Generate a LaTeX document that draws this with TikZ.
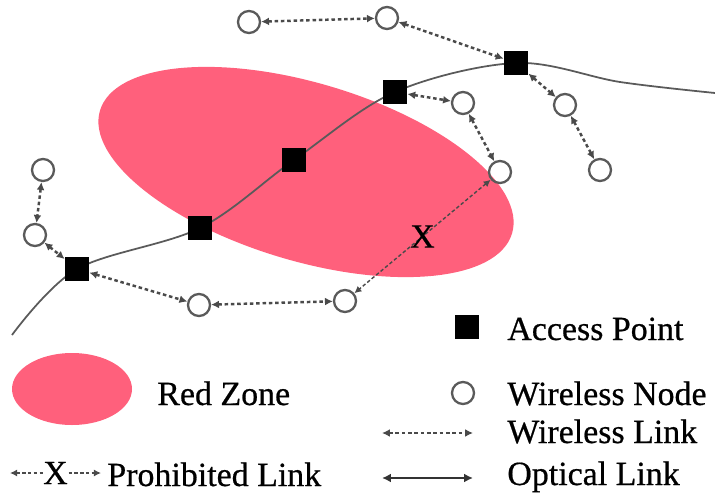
\documentclass[tikz,border=0pt]{standalone}
\usepackage{fontspec}
\setmainfont{Liberation Serif}[FakeBold=0.6]
\usetikzlibrary{arrows.meta,backgrounds}
\definecolor{redzone}{HTML}{FF607C}
\definecolor{linkgray}{HTML}{4A4A4A}
\definecolor{fibregray}{HTML}{5A5A5A}
\tikzset{
  ap/.style={rectangle,fill=black,minimum size=0.48cm,inner sep=0pt},
  wnode/.style={circle,draw=fibregray,line width=1.3pt,minimum size=0.44cm,inner sep=0pt},
  wlink/.style={{Latex[length=4.5pt,width=4.5pt]}-{Latex[length=4.5pt,width=4.5pt]},linkgray,line width=1.4pt,dash pattern=on 2pt off 1.6pt},
  plink/.style={{Latex[length=4pt,width=4pt]}-{Latex[length=4pt,width=4pt]},linkgray,line width=0.8pt,dash pattern=on 2pt off 1.3pt},
  olink/.style={{Latex[length=5pt,width=5pt]}-{Latex[length=5pt,width=5pt]},black!80,line width=1.6pt},
  fibre/.style={fibregray,line width=1pt},
  cross/.style={inner sep=0pt,text=black},
  lbl/.style={anchor=base west,inner sep=0pt}
}
\begin{document}
\begin{tikzpicture}[font=\fontsize{19.3}{22}\selectfont]
\useasboundingbox (0,0) rectangle (14.3,9.9);
% access points
\node[ap] (ap1) at (1.54,4.52) {};
\node[ap] (ap2) at (4.00,5.34) {};
\node[ap] (ap3) at (5.88,6.70) {};
\node[ap] (ap4) at (7.90,8.06) {};
\node[ap] (ap5) at (10.32,8.64) {};
% wireless nodes
\node[wnode] (w1) at (4.98,9.46) {};
\node[wnode] (w2) at (7.74,9.54) {};
\node[wnode] (w3) at (9.26,7.84) {};
\node[wnode] (w4) at (10.00,6.46) {};
\node[wnode] (w5) at (11.30,7.80) {};
\node[wnode] (w6) at (12.00,6.50) {};
\node[wnode] (w7) at (6.90,3.88) {};
\node[wnode] (w8) at (3.98,3.80) {};
\node[wnode] (w9) at (0.86,6.50) {};
\node[wnode] (w10) at (0.70,5.20) {};
% red zone and optical fibre underneath
\coordinate (fa) at (0.24,3.20);
\coordinate (fb) at (12.40,8.26);
\coordinate (fc) at (14.30,8.04);
\begin{scope}[on background layer]
\fill[redzone,rotate around={-16.6:(6.12,6.46)}] (6.12,6.46) ellipse [x radius=4.3,y radius=1.78];
\draw[fibre] plot[smooth,tension=0.55] coordinates {(fa) (ap1.center) (ap2.center) (ap3.center) (ap4.center) (ap5.center) (fb) (fc)};
\end{scope}
% wireless links
\draw[wlink] (w1) -- (w2);
\draw[wlink] (w2) -- (ap5);
\draw[wlink] (ap4) -- (w3);
\draw[wlink] (w3) -- (w4);
\draw[wlink] (ap5) -- (w5);
\draw[wlink] (w5) -- (w6);
\draw[wlink] (w9) -- (w10);
\draw[wlink] (w10) -- (ap1);
\draw[wlink] (ap1) -- (w8);
\draw[wlink] (w8) -- (w7);
\draw[plink] (w4) -- node[cross] (x1) {X} (w7);
% legend
\fill[redzone] (1.44,2.12) ellipse [x radius=1.2,y radius=0.72];
\node[lbl] (lzone) at (3.14,1.80) {Red Zone};
\coordinate (pa) at (0.20,0.44);
\coordinate (pb) at (2.02,0.44);
\draw[plink] (pa) -- node[cross,fill=white] (x2) {X} (pb);
\node[lbl] (lprohib) at (2.14,0.18) {Prohibited Link};
\node[ap] (lap) at (9.34,3.36) {};
\node[lbl] (lapt) at (10.14,3.10) {Access Point};
\node[wnode] (lw) at (9.26,2.04) {};
\node[lbl] (lwt) at (10.14,1.80) {Wireless Node};
\coordinate (wa) at (7.64,1.24);
\coordinate (wb) at (9.46,1.24);
\draw[wlink] (wa) -- (wb);
\node[lbl] (lwl) at (10.14,1.04) {Wireless Link};
\coordinate (oa) at (7.64,0.34);
\coordinate (ob) at (9.46,0.34);
\draw[olink] (oa) -- (ob);
\node[lbl] (lol) at (10.14,0.20) {Optical Link};
\end{tikzpicture}
\end{document}
